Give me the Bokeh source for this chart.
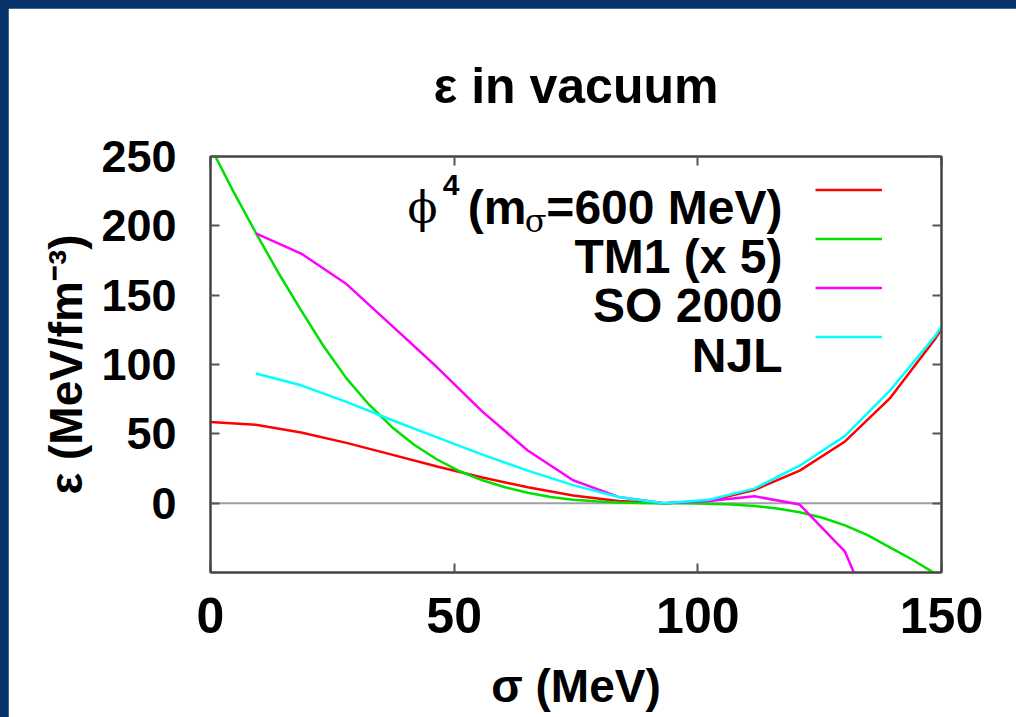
from bokeh.plotting import figure
from bokeh.layouts import column
from bokeh.models import (Range1d, LinearAxis, FixedTicker, Span, Label,
                          Legend, LegendItem)
from bokeh.embed import file_html
from bokeh.resources import INLINE

# sigma grid (MeV), steps of f_pi / 10
sigma_grid = [0.0, 9.3, 18.6, 27.9, 37.2, 46.5, 55.8, 65.1, 74.4, 83.7,
              93.0, 102.3, 111.6, 120.9, 130.2, 139.5, 148.8, 158.1]

# vacuum energy density (MeV/fm^3) for each model
sigma_phi4 = sigma_grid
eps_phi4 = [58.5, 56.5, 51.0, 43.5, 35.0, 26.5, 18.5, 11.5, 5.5, 1.5,
            0.0, 1.8, 9.5, 23.5, 44.5, 76.0, 119.0, 170.0]

# TM1 is tabulated on a finer grid (half steps)
sigma_tm1 = [0.0, 4.65, 9.3, 13.95, 18.6, 23.25, 27.9, 32.55, 37.2, 41.85,
             46.5, 51.15, 55.8, 60.45, 65.1, 69.75, 74.4, 79.05, 83.7, 88.35,
             93.0, 97.65, 102.3, 106.95, 111.6, 116.25, 120.9, 125.55, 130.2,
             134.85, 139.5, 144.15, 148.8]
eps_tm1_x5 = [257.0, 225.0, 195.0, 166.0, 139.0, 113.0, 90.0, 71.0, 55.0,
              42.0, 31.5, 23.0, 16.5, 11.5, 7.5, 4.5, 2.5, 1.3, 0.5, 0.1,
              0.0, -0.1, -0.4, -1.0, -2.0, -3.8, -6.5, -10.5, -16.0, -23.0,
              -32.0, -41.0, -51.0]

sigma_so2000 = sigma_grid[1:16]
eps_so2000 = [194.5, 180.0, 158.0, 128.0, 98.0, 66.0, 38.0, 16.5, 4.5,
              0.0, 1.5, 5.0, -1.0, -35.0, -112.0]

sigma_njl = sigma_grid[1:]
eps_njl = [93.5, 85.0, 73.0, 60.0, 47.5, 35.0, 23.5, 13.0, 4.5,
           0.0, 2.5, 10.5, 27.0, 48.5, 81.5, 121.0, 170.0]

x_ticks = [0, 50, 100, 150]
y_ticks = [0, 50, 100, 150, 200, 250]

NAVY = "#04346a"
FONT = "Liberation Sans"
EDGE = 8                       # navy band on the top and left of the page
W, H = 1016 - EDGE, 717 - EDGE
FRAME_L, FRAME_R, FRAME_T, FRAME_B = 202, 933, 148, 564

p = figure(width=W, height=H,
           x_range=Range1d(0, 150), y_range=Range1d(-50, 250),
           output_backend="svg", toolbar_location=None,
           min_border_left=FRAME_L, min_border_right=W - FRAME_R,
           min_border_top=FRAME_T, min_border_bottom=H - FRAME_B,
           title="ε in vacuum")
p.margin = (EDGE, 0, 0, EDGE)
p.grid.visible = False
p.background_fill_color = "white"
p.border_fill_color = "white"
p.outline_line_color = "#444444"
p.outline_line_width = 2

p.title.align = "center"
p.title.text_font = FONT
p.title.text_font_size = "50px"
p.title.text_font_style = "bold"
p.title.text_color = "black"
p.title.standoff = 85


def style_axis(ax, ticks, size):
    ax.ticker = FixedTicker(ticks=ticks)
    ax.minor_tick_line_color = None
    ax.major_tick_in = 9
    ax.major_tick_out = 0
    ax.major_tick_line_color = "#555555"
    ax.major_tick_line_width = 2
    ax.axis_line_color = "#444444"
    ax.axis_line_width = 2
    ax.major_label_text_font = FONT
    ax.major_label_text_font_style = "bold"
    if size is None:
        ax.major_label_text_font_size = "0px"
        ax.major_label_text_color = None
        ax.major_label_standoff = 0
    else:
        ax.major_label_text_font_size = size
        ax.major_label_text_color = "black"


xa = p.xaxis[0]
ya = p.yaxis[0]
style_axis(xa, x_ticks, "50px")
style_axis(ya, y_ticks, "45px")
xa.major_label_standoff = 25
ya.major_label_standoff = 34
xa.axis_label = "σ (MeV)"
ya.axis_label = "ε (MeV/fm⁻³)"
for ax in (xa, ya):
    ax.axis_label_text_font = FONT
    ax.axis_label_text_font_size = "46px"
    ax.axis_label_text_font_style = "bold"
    ax.axis_label_text_color = "black"
xa.axis_label_standoff = 24
ya.axis_label_standoff = 6

top_axis = LinearAxis()
right_axis = LinearAxis()
style_axis(top_axis, x_ticks, None)
style_axis(right_axis, y_ticks, None)
p.add_layout(top_axis, "above")
p.add_layout(right_axis, "right")

# zero reference line
p.add_layout(Span(location=0, dimension="width", line_color="#a0a0a0",
                  line_width=2, level="underlay"))

series = [
    (sigma_phi4, eps_phi4, "#ff0000"),
    (sigma_tm1, eps_tm1_x5, "#00e000"),
    (sigma_so2000, eps_so2000, "#ff00ff"),
    (sigma_njl, eps_njl, "#00ffff"),
]
renderers = [p.line(xs, ys, line_color=c, line_width=2.5) for xs, ys, c in series]


def to_data(px, py):
    """Page pixel -> data coordinates of the frame."""
    cx, cy = px - EDGE, py - EDGE
    x = (cx - FRAME_L) / (FRAME_R - FRAME_L) * 150.0
    y = 250.0 - (cy - FRAME_T) / (FRAME_B - FRAME_T) * 300.0
    return x, y


# key: sample lines through a legend, texts right-aligned to their left
legend = Legend(items=[LegendItem(label=" ", renderers=[r]) for r in renderers],
                location=(815 - EDGE - FRAME_L, FRAME_B - (361 - EDGE)),
                glyph_width=67, glyph_height=49, spacing=0, padding=0,
                margin=0, label_width=0, label_height=0, label_standoff=0,
                label_text_font_size="1px", label_text_color=None,
                border_line_alpha=0, background_fill_alpha=0)
p.add_layout(legend)


def add_text(text, px, py, size, style="bold", align="right", font=FONT):
    x, y = to_data(px, py)
    p.add_layout(Label(x=x, y=y, text=text, text_font=font,
                       text_font_size=size, text_font_style=style,
                       text_align=align, text_baseline="alphabetic",
                       text_color="black"))


RIGHT = 782
add_text("=600 MeV)", RIGHT, 207, "48px")
add_text("σ", 546, 220, "32px", style="normal", font="DejaVu Serif")
add_text("(m", 526, 207, "48px")
add_text("4", 459, 184, "30px")
add_text("ϕ", 437, 207, "44px", style="normal", font="DejaVu Serif")
add_text("TM1 (x 5)", RIGHT, 256, "48px")
add_text("SO 2000", RIGHT, 305, "48px")
add_text("NJL", RIGHT, 355, "48px")

page = column(p, styles={"background-color": NAVY})

open("out.html", "w").write(file_html(page, INLINE))
